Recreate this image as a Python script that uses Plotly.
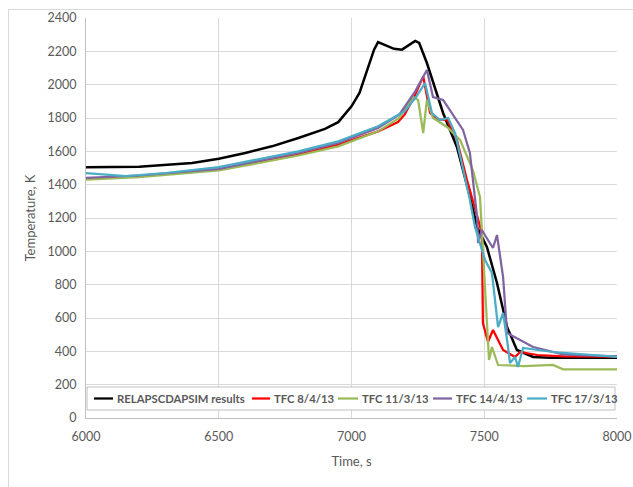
import plotly.graph_objects as go

# RELAPSCDAPSIM results
t_relap = [6000, 6200, 6400, 6500, 6600, 6700, 6800, 6900, 6950, 7000, 7030, 7060, 7085, 7100, 7130, 7160, 7190, 7215, 7240, 7255, 7284, 7345, 7397, 7446, 7473, 7510, 7548, 7586, 7623, 7684, 7750, 8000]
T_relap = [1505, 1508, 1530, 1555, 1590, 1630, 1680, 1735, 1775, 1870, 1950, 2090, 2210, 2255, 2235, 2215, 2210, 2235, 2262, 2250, 2130, 1830, 1626, 1330, 1146, 1026, 810, 546, 408, 366, 362, 362]

# TFC 8/4/13
t_red = [6000, 6200, 6500, 6800, 6950, 7100, 7175, 7200, 7240, 7270, 7296, 7322, 7360, 7397, 7435, 7484, 7491, 7495, 7514, 7533, 7571, 7616, 7635, 7699, 7800, 8000]
T_red = [1435, 1450, 1490, 1580, 1640, 1720, 1776, 1820, 1940, 2050, 1830, 1790, 1790, 1668, 1428, 1146, 1110, 570, 456, 528, 408, 366, 396, 378, 370, 368]

# TFC 11/3/13
t_green = [6000, 6200, 6500, 6800, 6950, 7100, 7180, 7232, 7251, 7270, 7284, 7307, 7360, 7409, 7457, 7484, 7495, 7510, 7518, 7529, 7552, 7650, 7759, 7797, 8000]
T_green = [1430, 1445, 1485, 1575, 1630, 1720, 1800, 1926, 1908, 1710, 1908, 1800, 1746, 1668, 1488, 1326, 1008, 528, 348, 426, 318, 312, 318, 292, 292]

# TFC 14/4/13
t_purple = [6000, 6200, 6500, 6800, 6950, 7100, 7180, 7240, 7284, 7307, 7345, 7420, 7446, 7458, 7473, 7477, 7491, 7514, 7533, 7548, 7571, 7586, 7684, 7800, 8000]
T_purple = [1440, 1455, 1495, 1590, 1650, 1740, 1820, 1960, 2088, 1926, 1908, 1728, 1590, 1410, 1206, 1050, 1128, 1068, 1020, 1098, 846, 510, 426, 380, 370]

# TFC 17/3/13
t_cyan = [6000, 6150, 6300, 6500, 6800, 6950, 7100, 7200, 7245, 7277, 7303, 7333, 7364, 7390, 7446, 7465, 7503, 7529, 7552, 7571, 7586, 7597, 7616, 7627, 7646, 7759, 8000]
T_cyan = [1470, 1452, 1470, 1505, 1600, 1660, 1750, 1840, 1930, 2010, 1830, 1788, 1800, 1710, 1308, 1146, 948, 870, 546, 630, 468, 330, 366, 306, 420, 396, 366]

series_names = ["RELAPSCDAPSIM results", "TFC 8/4/13", "TFC 11/3/13", "TFC 14/4/13", "TFC 17/3/13"]
series_t = [t_relap, t_red, t_green, t_purple, t_cyan]
series_T = [T_relap, T_red, T_green, T_purple, T_cyan]
colors = ["#000000", "#ff0000", "#9bbb59", "#8064a2", "#4bacc6"]
widths = [2.5, 2.25, 2.25, 2.25, 2.25]

# plot area in page pixels: x 86..617, y 18..418
PX0, PX1, PY0, PY1 = 86, 617, 18, 418
def px(X):
    return (X - PX0) / (PX1 - PX0)
def py(Y):
    return (PY1 - Y) / (PY1 - PY0)

fig = go.Figure()
for name, t, T, c, w in zip(series_names, series_t, series_T, colors, widths):
    fig.add_trace(go.Scatter(x=t, y=T, mode="lines", name=name, showlegend=False,
                             line=dict(color=c, width=w)))

FONT = "Lato, 'Liberation Sans', sans-serif"
GRAY = "#595959"

shapes = [
    # legend box
    dict(type="rect", xref="paper", yref="paper", x0=px(87), x1=px(615), y0=py(410), y1=py(387),
         fillcolor="white", line=dict(color="#bfbfbf", width=1), layer="above"),
    # chart border (top/left visible)
    dict(type="line", xref="paper", yref="paper", x0=px(8.5), x1=px(633), y0=py(9.5), y1=py(9.5),
         line=dict(color="#d9d9d9", width=1), layer="above"),
    dict(type="line", xref="paper", yref="paper", x0=px(8.5), x1=px(8.5), y0=py(9.5), y1=py(487),
         line=dict(color="#d9d9d9", width=1), layer="above"),
]
annotations = []
# legend entries: (line start, line end, text start) in page pixels
leg_pos = [(94, 113, 115), (252, 270, 272), (338, 358, 360), (433, 452, 454), (527, 547, 549)]
LY = 398.5
for (x0, x1, xt), name, c in zip(leg_pos, series_names, colors):
    shapes.append(dict(type="line", xref="paper", yref="paper", x0=px(x0), x1=px(x1),
                       y0=py(LY), y1=py(LY), line=dict(color=c, width=2.25), layer="above"))
    annotations.append(dict(xref="paper", yref="paper", x=px(xt), y=py(LY), xanchor="left",
                            yanchor="middle", showarrow=False, text=name,
                            font=dict(family=FONT, size=11.3, color=GRAY, weight="bold")))

fig.update_layout(
    width=633, height=487,
    paper_bgcolor="white", plot_bgcolor="white",
    margin=dict(l=86, r=16, t=18, b=69, autoexpand=False),
    font=dict(family=FONT, size=13, color=GRAY),
    showlegend=False,
    shapes=shapes,
    annotations=annotations,
)
fig.update_xaxes(range=[6000, 8000], tickvals=[6000, 6500, 7000, 7500, 8000],
                 showgrid=True, gridcolor="#d9d9d9", gridwidth=1,
                 showline=True, linecolor="#bfbfbf", linewidth=1, zeroline=False,
                 ticks="", tickfont=dict(size=12.5, color=GRAY), ticklabelstandoff=7,
                 title=dict(text="Time, s", font=dict(size=13, color=GRAY), standoff=13))
fig.update_yaxes(range=[0, 2400], tickvals=list(range(0, 2401, 200)),
                 showgrid=True, gridcolor="#d9d9d9", gridwidth=1,
                 showline=True, linecolor="#bfbfbf", linewidth=1, zeroline=False,
                 ticks="", tickfont=dict(size=12.5, color=GRAY), ticklabelstandoff=6,
                 title=dict(text="Temperature, K", font=dict(size=13, color=GRAY), standoff=8))

fig.write_html("out.html", config={"displayModeBar": False},
               post_script="document.body.style.margin='0';document.body.style.overflow='hidden';")
